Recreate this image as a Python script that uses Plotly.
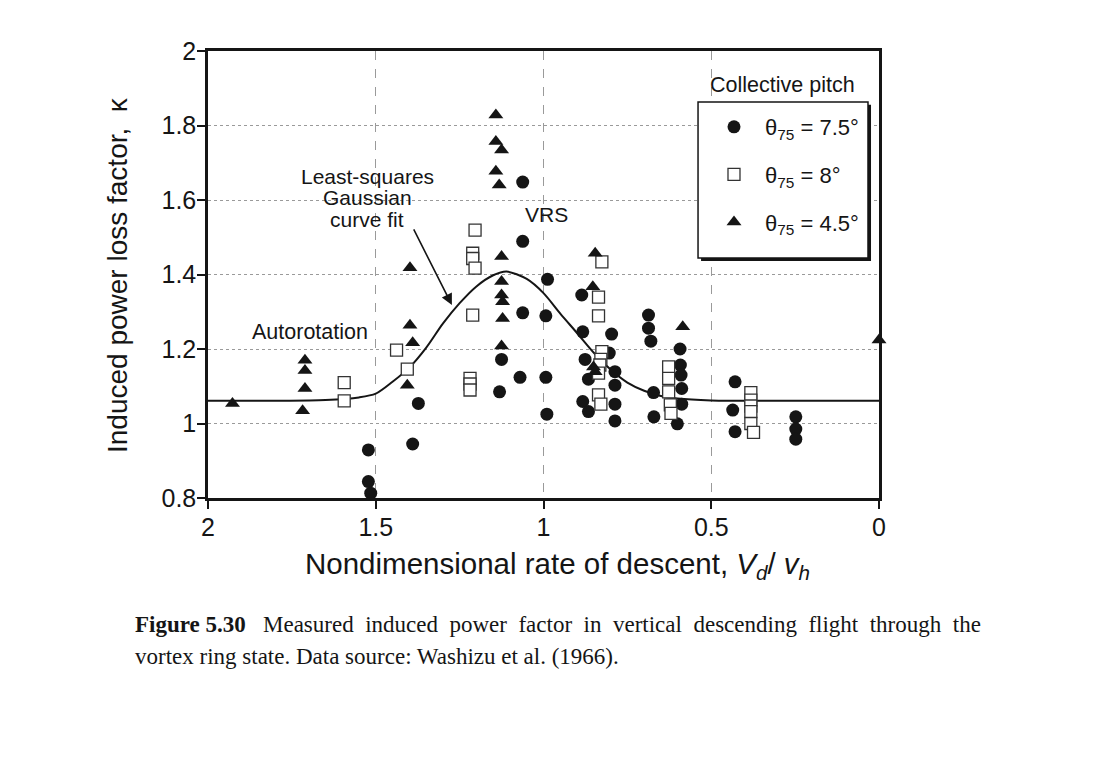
import plotly.graph_objects as go

# ---- data ----
circ_x = [1.062, 1.062, 0.988, 1.062, 0.993, 1.125, 1.070, 0.993, 1.131, 0.990,
          1.373, 1.390, 1.522, 1.522, 1.515, 0.886, 0.883, 0.797, 0.687, 0.687,
          0.680, 0.593, 0.804, 0.876, 0.866, 0.787, 0.787, 0.672, 0.592, 0.590,
          0.588, 0.588, 0.601, 0.671, 0.883, 0.866, 0.787, 0.787, 0.429, 0.436,
          0.429, 0.248, 0.248, 0.248]
circ_y = [1.648, 1.489, 1.387, 1.297, 1.289, 1.172, 1.124, 1.124, 1.085, 1.025,
          1.054, 0.945, 0.929, 0.844, 0.813, 1.345, 1.246, 1.240, 1.291, 1.256,
          1.221, 1.200, 1.189, 1.172, 1.119, 1.139, 1.103, 1.083, 1.157, 1.130,
          1.094, 1.052, 0.999, 1.018, 1.059, 1.032, 1.052, 1.007, 1.112, 1.036,
          0.978, 1.018, 0.985, 0.958]

sq_x = [1.594, 1.594, 1.438, 1.406, 1.204, 1.211, 1.211, 1.204, 1.211, 1.219,
        1.219, 1.219, 0.826, 0.836, 0.836, 0.826, 0.829, 0.832, 0.836, 0.836,
        0.829, 0.627, 0.627, 0.627, 0.622, 0.620, 0.382, 0.382, 0.382, 0.382,
        0.382, 0.374]
sq_y = [1.110, 1.061, 1.197, 1.146, 1.519, 1.457, 1.443, 1.417, 1.291, 1.121,
        1.106, 1.090, 1.434, 1.339, 1.289, 1.193, 1.172, 1.157, 1.135, 1.077,
        1.052, 1.152, 1.121, 1.085, 1.050, 1.027, 1.083, 1.063, 1.047, 1.032,
        1.000, 0.976]

tri_x = [1.927, 1.711, 1.711, 1.711, 1.718, 1.398, 1.398, 1.390, 1.406, 1.142,
         1.142, 1.125, 1.142, 1.132, 1.125, 1.125, 1.125, 1.122, 1.122, 1.125,
         0.853, 0.846, 0.851, 0.846, 0.585, 0.0]
tri_y = [1.054, 1.170, 1.142, 1.094, 1.034, 1.418, 1.264, 1.217, 1.103, 1.828,
         1.757, 1.734, 1.677, 1.640, 1.448, 1.381, 1.345, 1.327, 1.282, 1.208,
         1.367, 1.457, 1.152, 1.139, 1.260, 1.224]

# least-squares Gaussian curve fit
fit_x = [2.0, 1.8, 1.65, 1.55, 1.5, 1.45, 1.4, 1.35, 1.3, 1.25, 1.2, 1.15, 1.11,
         1.05, 1.0, 0.95, 0.9, 0.85, 0.8, 0.75, 0.7, 0.65, 0.6, 0.5, 0.3, 0.0]
fit_y = [1.061, 1.061, 1.063, 1.070, 1.080, 1.112, 1.150, 1.203, 1.268, 1.323,
         1.368, 1.398, 1.408, 1.388, 1.350, 1.295, 1.243, 1.190, 1.145, 1.110,
         1.088, 1.074, 1.067, 1.062, 1.061, 1.061]

x_ticks = [2, 1.5, 1, 0.5, 0]
x_tick_text = ["2", "1.5", "1", "0.5", "0"]
y_ticks = [0.8, 1.0, 1.2, 1.4, 1.6, 1.8, 2.0]
y_tick_text = ["0.8", "1", "1.2", "1.4", "1.6", "1.8", "2"]

FONT = "Liberation Sans, Arial, Helvetica, sans-serif"
SERIF = "Liberation Serif, Times New Roman, serif"
INK = "#151515"

fig = go.Figure()

fig.add_trace(go.Scatter(
    x=fit_x, y=fit_y, mode="lines", line=dict(color=INK, width=2, shape="spline", smoothing=0.8),
    showlegend=False, hoverinfo="skip"))

fig.add_trace(go.Scatter(
    x=circ_x, y=circ_y, mode="markers", name="θ<sub>75</sub> = 7.5°", legendgroup="a",
    marker=dict(symbol="circle", size=13, color=INK, line=dict(width=0)),
    cliponaxis=False))
fig.add_trace(go.Scatter(
    x=sq_x, y=sq_y, mode="markers", name="θ<sub>75</sub> = 8°", legendgroup="b",
    marker=dict(symbol="square", size=12, color="white", line=dict(width=1.3, color="#333")),
    cliponaxis=False))
fig.add_trace(go.Scatter(
    x=tri_x, y=tri_y, mode="markers", name="θ<sub>75</sub> = 4.5°", legendgroup="c",
    marker=dict(symbol="triangle-up", size=13, color=INK, line=dict(width=0)),
    cliponaxis=False))

axis_common = dict(
    showline=True, linecolor=INK, linewidth=2.5, mirror=True,
    ticks="outside", ticklen=8, tickwidth=1.5, tickcolor=INK,
    tickfont=dict(family=FONT, size=25, color=INK),
    showgrid=True, gridcolor="#9a9a9a", gridwidth=1, zeroline=False,
)

fig.update_xaxes(range=[2, 0], tickvals=x_ticks, ticktext=x_tick_text,
                 griddash="dash", ticklabelstandoff=-3, **axis_common)
fig.update_yaxes(range=[0.8, 2.0], tickvals=y_ticks, ticktext=y_tick_text,
                 griddash="dot", ticklabelstandoff=-4, **axis_common)

# legend box (with shadow) and title
fig.add_shape(type="rect", xref="paper", yref="paper",
              x0=0.7348, x1=0.9881, y0=0.530, y1=0.880,
              fillcolor=INK, line=dict(width=0), layer="above")
fig.add_shape(type="rect", xref="paper", yref="paper",
              x0=0.7303, x1=0.9836, y0=0.537, y1=0.886,
              fillcolor="white", line=dict(color=INK, width=1.5), layer="above")


def note(text, x, y, size, xref="x", yref="y", xanchor="center", **kw):
    return dict(text=text, x=x, y=y, xref=xref, yref=yref, showarrow=False,
                xanchor=xanchor, yanchor="middle",
                font=dict(family=kw.pop("family", FONT), size=size, color=INK), **kw)


caption1 = "<b>Figure 5.30</b>   " + "  ".join(
    "Measured induced power factor in vertical descending flight through the".split())
caption2 = "vortex ring state. Data source: Washizu et al. (1966)."

annotations = [
    note("Collective pitch", 0.8555, 0.924, 21.5, xref="paper", yref="paper"),
    note("Least-squares", 1.526, 1.664, 21),
    note("Gaussian", 1.526, 1.608, 21),
    note("curve fit", 1.526, 1.549, 21),
    dict(text="", x=1.273, y=1.318, ax=1.389, ay=1.525, axref="x", ayref="y",
         xref="x", yref="y", showarrow=True, arrowhead=2, arrowsize=1.4,
         arrowwidth=1.6, arrowcolor=INK),
    note("VRS", 0.9925, 1.560, 21),
    note("Autorotation", 1.696, 1.2465, 21.5),
    note("Nondimensional rate of descent, <i>V<sub>d</sub></i>/ <i>v<sub>h</sub></i>",
         0.5216, -0.150, 29.5, xref="paper", yref="paper"),
    note("Induced power loss factor,  κ", -0.134, 0.499, 28, xref="paper", yref="paper",
         textangle=-90),
    note(caption1, -0.1118, -0.2819, 23, xref="paper", yref="paper", xanchor="left", family=SERIF),
    note(caption2, -0.1118, -0.3535, 23, xref="paper", yref="paper", xanchor="left", family=SERIF),
]

fig.update_layout(
    width=1098, height=758,
    margin=dict(l=200, r=227, t=43, b=268),
    paper_bgcolor="white", plot_bgcolor="white",
    font=dict(family=FONT, color=INK),
    annotations=annotations,
    legend=dict(x=0.7377, y=0.877, xanchor="left", yanchor="top",
                bgcolor="rgba(0,0,0,0)", borderwidth=0,
                font=dict(family=FONT, size=22, color=INK),
                tracegroupgap=16, itemsizing="trace", itemwidth=52),
)

fig.write_html("out.html")
